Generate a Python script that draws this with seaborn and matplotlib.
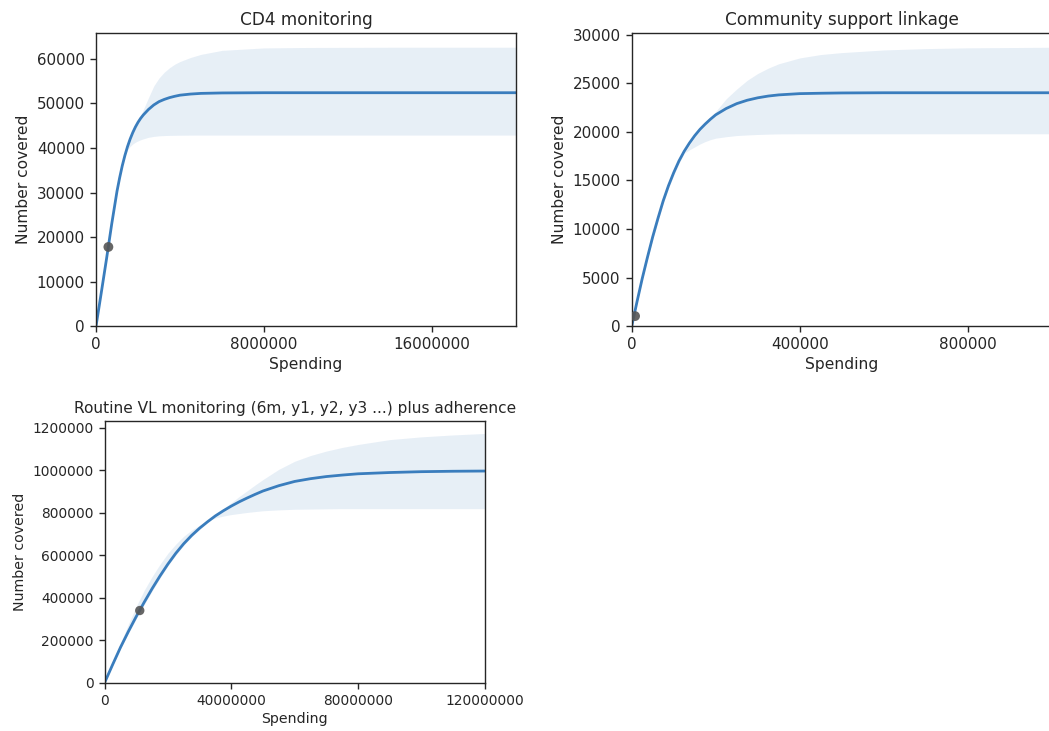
import matplotlib
matplotlib.use("Agg")
import matplotlib.pyplot as plt
import seaborn as sns
import numpy as np
from matplotlib.ticker import FuncFormatter

# ---------------- data ----------------
cd4_title = "CD4 monitoring"
cd4_spend = [0, 0.25e6, 0.5e6, 0.75e6, 1.0e6, 1.125e6, 1.25e6, 1.375e6, 1.5e6, 1.625e6,
             1.75e6, 1.875e6, 2.0e6, 2.125e6, 2.25e6, 2.5e6, 2.75e6, 3.0e6, 3.25e6,
             3.5e6, 3.75e6, 4.0e6, 4.5e6, 5.0e6, 6.0e6, 8.0e6, 10e6, 14e6, 20e6]
cd4_mid = [0, 7500, 15100, 23000, 30300, 33300, 36000, 38300, 40300, 42000,
           43450, 44700, 45760, 46650, 47400, 48650, 49650, 50400, 50900,
           51300, 51600, 51850, 52100, 52250, 52350, 52400, 52400, 52400, 52400]
cd4_low = [0, 7600, 15200, 23100, 30400, 33400, 36100, 38300, 39600, 40350,
           40900, 41300, 41600, 41850, 42050, 42400, 42600, 42730, 42790,
           42830, 42850, 42870, 42890, 42900, 42900, 42900, 42900, 42900, 42900]
cd4_high = [0, 7450, 15000, 22900, 30200, 33200, 35900, 38200, 40200, 41900,
            43400, 44700, 45900, 47200, 48600, 51300, 53900, 55700, 57000,
            58000, 58800, 59400, 60300, 61000, 61900, 62450, 62550, 62600, 62600]
cd4_point = [590000, 17800]
cd4_xticks = [0, 8000000, 16000000]
cd4_yticks = [0, 10000, 20000, 30000, 40000, 50000, 60000]

cs_title = "Community support linkage"
cs_spend = [0, 12.5e3, 25e3, 37.5e3, 50e3, 62.5e3, 75e3, 87.5e3, 100e3, 112.5e3, 125e3,
            137.5e3, 150e3, 162.5e3, 175e3, 187.5e3, 200e3, 225e3, 250e3, 275e3, 300e3,
            325e3, 350e3, 400e3, 450e3, 500e3, 600e3, 700e3, 800e3, 1000e3]
cs_mid = [0, 2500, 4900, 7100, 9200, 11100, 12900, 14450, 15800, 17000, 18000,
          18850, 19600, 20250, 20800, 21300, 21750, 22400, 22900, 23250, 23500,
          23680, 23800, 23930, 23970, 24000, 24020, 24020, 24020, 24020]
cs_low = [0, 2600, 5150, 7450, 9600, 11550, 13350, 14900, 16200, 17150, 17800,
          18150, 18450, 18750, 19000, 19200, 19350, 19500, 19620, 19680, 19730,
          19765, 19790, 19800, 19800, 19800, 19800, 19800, 19800, 19800]
cs_high = [0, 2400, 4750, 6900, 8950, 10850, 12650, 14200, 15550, 16750, 17800,
           18650, 19450, 20100, 20750, 21450, 22100, 23400, 24400, 25300, 26000,
           26550, 27000, 27600, 27950, 28150, 28420, 28560, 28640, 28700]
cs_point = [8000, 1050]
cs_xticks = [0, 400000, 800000]
cs_yticks = [0, 5000, 10000, 15000, 20000, 25000, 30000]

vl_title = "Routine VL monitoring (6m, y1, y2, y3 ...) plus adherence"
vl_spend = [0, 2.5e6, 5e6, 7.5e6, 10e6, 12.5e6, 15e6, 17.5e6, 20e6, 22.5e6, 25e6,
            27.5e6, 30e6, 32.5e6, 35e6, 37.5e6, 40e6, 42.5e6, 45e6, 47.5e6, 50e6,
            55e6, 60e6, 65e6, 70e6, 75e6, 80e6, 90e6, 100e6, 110e6, 120e6]
vl_mid = [0, 84e3, 166e3, 241e3, 312e3, 379e3, 443e3, 503e3, 559e3, 610e3, 655e3,
          694e3, 728e3, 758e3, 786e3, 810e3, 832e3, 852e3, 870e3, 887e3, 903e3,
          928e3, 948e3, 961e3, 971e3, 978e3, 984e3, 990e3, 994e3, 996e3, 997e3]
vl_low = [0, 94e3, 185e3, 275e3, 360e3, 435e3, 500e3, 558e3, 610e3, 653e3, 690e3,
          719e3, 742e3, 761e3, 776e3, 785e3, 792e3, 797e3, 802e3, 806e3, 810e3,
          814e3, 817e3, 818e3, 819e3, 820e3, 820e3, 820e3, 820e3, 820e3, 820e3]
vl_high = [0, 80e3, 160e3, 232e3, 302e3, 368e3, 432e3, 493e3, 552e3, 602e3, 648e3,
           687e3, 722e3, 756e3, 790e3, 820e3, 848e3, 877e3, 904e3, 931e3, 957e3,
           1005e3, 1043e3, 1070e3, 1091e3, 1108e3, 1122e3, 1145e3, 1158e3, 1167e3, 1174e3]
vl_point = [11.1e6, 340e3]
vl_xticks = [0, 40000000, 80000000, 120000000]
vl_yticks = [0, 200000, 400000, 600000, 800000, 1000000, 1200000]

x_label = "Spending"
y_label = "Number covered"

# ---------------- style ----------------
sns.set_style("ticks")
plt.rcParams["font.family"] = ["DejaVu Sans"]
plt.rcParams["axes.linewidth"] = 1.0
plt.rcParams["xtick.major.width"] = 1.0
plt.rcParams["ytick.major.width"] = 1.0
plt.rcParams["xtick.major.size"] = 4.5
plt.rcParams["ytick.major.size"] = 4.5
plt.rcParams["lines.solid_joinstyle"] = "round"

LINE = "#3a7dbd"
FILL = "#3a7dbd"
DOT = "#555555"

W, H = 1049, 731
fig = plt.figure(figsize=(W / 100, H / 100), dpi=100)


def rect(left, top, right, bottom):
    return [left / W, 1 - bottom / H, (right - left) / W, (bottom - top) / H]


fmt = FuncFormatter(lambda v, p: f"{v:.0f}")


def panel(ax, title, spend, mid, low, high, point, xticks, yticks, xmax, scale):
    ax.fill_between(spend, low, high, color=FILL, alpha=0.12, linewidth=0)
    sns.lineplot(x=spend, y=mid, ax=ax, color=LINE, linewidth=2.0)
    sns.scatterplot(x=[point[0]], y=[point[1]], ax=ax, color=DOT, s=50 * scale,
                    alpha=0.9, edgecolor="none", zorder=5)
    ax.set_xlim(0, xmax)
    ax.set_ylim(0, 1.05 * max(high))
    ax.set_xticks(xticks)
    ax.set_yticks(yticks)
    ax.xaxis.set_major_formatter(fmt)
    ax.yaxis.set_major_formatter(fmt)
    ax.set_title(title, fontsize=12.2 * scale)
    ax.set_xlabel(x_label, fontsize=11.2 * scale, labelpad=3)
    ax.set_ylabel(y_label, fontsize=11.2 * scale, labelpad=4)
    ax.tick_params(labelsize=10.9 * scale, colors=".15")
    for s in ax.spines.values():
        s.set_visible(True)


ax1 = fig.add_axes(rect(96, 33.3, 516, 326.3))
panel(ax1, cd4_title, cd4_spend, cd4_mid, cd4_low, cd4_high, cd4_point,
      cd4_xticks, cd4_yticks, 20e6, 1.0)

ax2 = fig.add_axes(rect(631.7, 33.3, 1051.7, 326.3))
panel(ax2, cs_title, cs_spend, cs_mid, cs_low, cs_high, cs_point,
      cs_xticks, cs_yticks, 1e6, 1.0)

ax3 = fig.add_axes(rect(104.6, 421, 484.7, 682.7))
panel(ax3, vl_title, vl_spend, vl_mid, vl_low, vl_high, vl_point,
      vl_xticks, vl_yticks, 120e6, 0.905)

fig.savefig("out.png", dpi=100)
